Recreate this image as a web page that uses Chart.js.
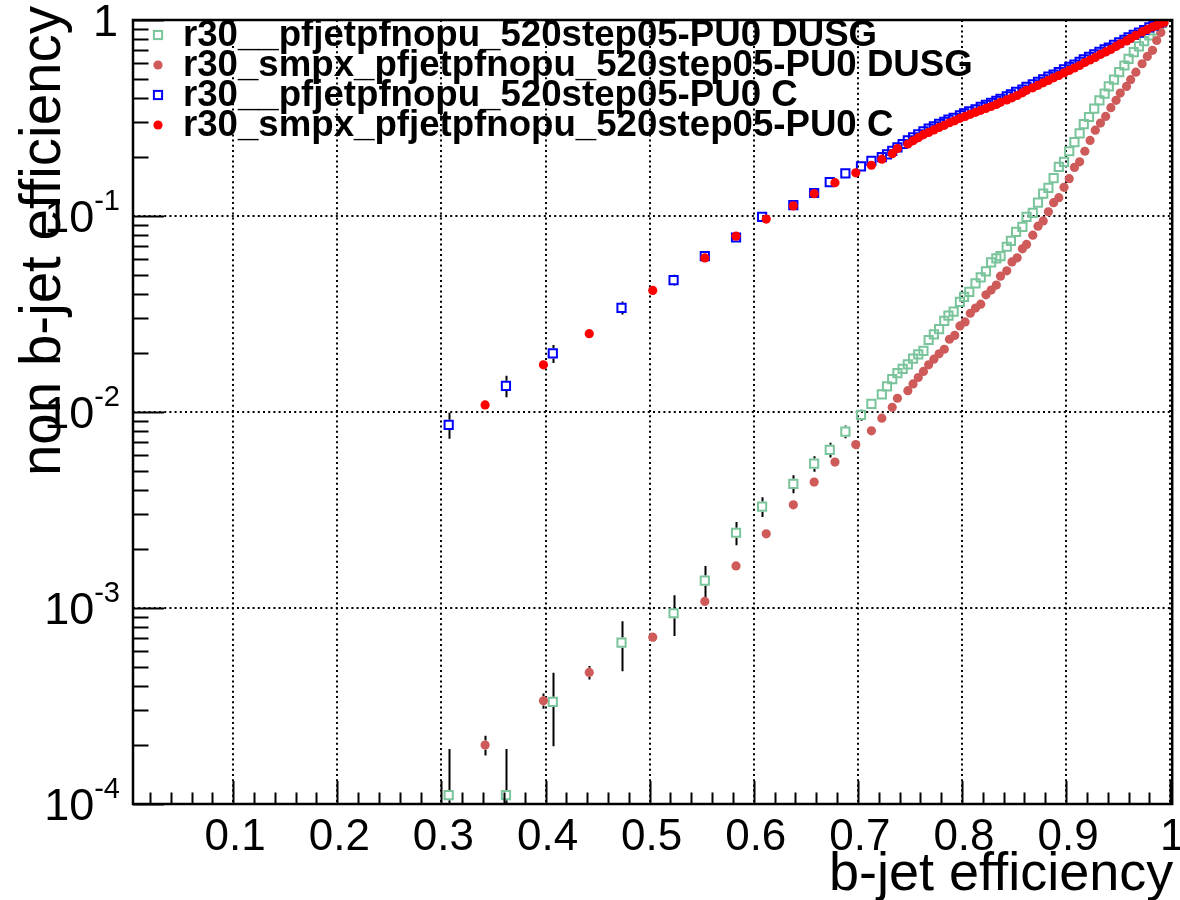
<!DOCTYPE html>
<html>
<head>
<meta charset="utf-8">
<script src="https://cdn.jsdelivr.net/npm/chart.js@4.4.0/dist/chart.umd.min.js"></script>
<style>
  html, body { margin: 0; padding: 0; background: #ffffff; }
  canvas { display: block; }
</style>
</head>
<body>
<canvas id="roc" width="1180" height="900"></canvas>
<script>
// ---- b-tagging performance: mistag rate vs b-jet efficiency ----

// Sample "r30__" : working points (b-jet efficiency)
const effB_r30 = [0.307, 0.362, 0.407, 0.473, 0.523, 0.553, 0.583, 0.608, 0.638, 0.658,
  0.673, 0.688, 0.703, 0.713, 0.723, 0.728, 0.733, 0.738, 0.743, 0.748,
  0.753, 0.758, 0.763, 0.768, 0.773, 0.778, 0.783, 0.787, 0.792, 0.798,
  0.802, 0.807, 0.813, 0.818, 0.823, 0.828, 0.833, 0.837, 0.843, 0.847,
  0.852, 0.858, 0.862, 0.868, 0.873, 0.878, 0.883, 0.888, 0.893, 0.898,
  0.903, 0.908, 0.913, 0.917, 0.922, 0.927, 0.932, 0.937, 0.941, 0.946,
  0.951, 0.956, 0.960, 0.965, 0.970, 0.975, 0.980, 0.984, 0.989, 0.992];

// light-flavour (udsg) mistag rate, r30__
const dusg_r30 = [1.11e-4, 1.11e-4, 3.32e-4, 6.66e-4, 9.4e-4, 1.38e-3, 2.42e-3, 3.29e-3, 4.30e-3, 5.45e-3,
  6.41e-3, 7.94e-3, 9.66e-3, 0.0110, 0.0123, 0.0135, 0.0147, 0.0158, 0.0166, 0.0175,
  0.0187, 0.0197, 0.0205, 0.0233, 0.0249, 0.0265, 0.0292, 0.0310, 0.0325, 0.0365,
  0.0387, 0.0410, 0.0453, 0.0486, 0.0522, 0.0580, 0.0608, 0.0624, 0.0697, 0.0747,
  0.0830, 0.0880, 0.0989, 0.1038, 0.117, 0.130, 0.139, 0.156, 0.178, 0.189,
  0.214, 0.238, 0.264, 0.294, 0.320, 0.353, 0.389, 0.421, 0.458, 0.496,
  0.542, 0.586, 0.634, 0.685, 0.733, 0.780, 0.834, 0.885, 0.937, 0.963];
const dusg_r30_err = [8.0e-5, 8.0e-5, 1.35e-4, 1.9e-4, 2.2e-4, 2.6e-4, 3.3e-4, 3.8e-4, 4.5e-4, 5.0e-4,
  5.5e-4, 6.0e-4, 6.5e-4, 0, 0, 0, 0, 0, 0, 0,
  0, 0, 0, 0, 0, 0, 0, 0, 0, 0, 0, 0, 0, 0, 0, 0, 0, 0, 0, 0,
  0, 0, 0, 0, 0, 0, 0, 0, 0, 0, 0, 0, 0, 0, 0, 0, 0, 0, 0, 0,
  0, 0, 0, 0, 0, 0, 0, 0, 0, 0];

// charm mistag rate, r30__
const c_r30 = [0.0086, 0.0136, 0.0199, 0.0340, 0.0471, 0.0624, 0.0777, 0.0989, 0.1135, 0.131,
  0.149, 0.165, 0.179, 0.191, 0.1995, 0.2065, 0.215, 0.224, 0.233, 0.243,
  0.252, 0.261, 0.270, 0.279, 0.287, 0.295, 0.302, 0.310, 0.317, 0.326,
  0.334, 0.342, 0.350, 0.360, 0.369, 0.378, 0.387, 0.396, 0.408, 0.417,
  0.430, 0.442, 0.456, 0.469, 0.483, 0.498, 0.515, 0.527, 0.543, 0.560,
  0.576, 0.593, 0.611, 0.629, 0.648, 0.667, 0.687, 0.708, 0.724, 0.746,
  0.768, 0.791, 0.815, 0.839, 0.863, 0.889, 0.916, 0.938, 0.966, 0.983];
const c_r30_err = [0.0013, 0.0017, 0.0021, 0.0026, 0.0030, 0.0035, 0.0040, 0.0045, 0, 0,
  0, 0, 0, 0, 0, 0, 0, 0, 0, 0, 0, 0, 0, 0, 0, 0, 0, 0, 0, 0,
  0, 0, 0, 0, 0, 0, 0, 0, 0, 0, 0, 0, 0, 0, 0, 0, 0, 0, 0, 0,
  0, 0, 0, 0, 0, 0, 0, 0, 0, 0, 0, 0, 0, 0, 0, 0, 0, 0, 0, 0];

// Sample "r30_smpx_" : working points (b-jet efficiency)
const effB_smpx = [0.342, 0.398, 0.442, 0.503, 0.553, 0.583, 0.612, 0.638, 0.658, 0.678,
  0.698, 0.713, 0.723, 0.733, 0.738, 0.748, 0.753, 0.758, 0.763, 0.768,
  0.773, 0.778, 0.783, 0.788, 0.793, 0.798, 0.803, 0.808, 0.813, 0.818,
  0.823, 0.828, 0.833, 0.837, 0.843, 0.848, 0.853, 0.858, 0.862, 0.868,
  0.873, 0.878, 0.883, 0.888, 0.893, 0.898, 0.903, 0.908, 0.913, 0.918,
  0.923, 0.928, 0.933, 0.938, 0.943, 0.948, 0.952, 0.958, 0.962, 0.967,
  0.973, 0.978, 0.983, 0.987, 0.991, 0.994];

const dusg_smpx = [2.0e-4, 3.36e-4, 4.69e-4, 7.1e-4, 1.08e-3, 1.64e-3, 2.39e-3, 3.36e-3, 4.39e-3, 5.55e-3,
  6.82e-3, 8.02e-3, 9.30e-3, 0.01057, 0.01175, 0.01285, 0.0139, 0.0150, 0.0161, 0.0174,
  0.0186, 0.0198, 0.0209, 0.0235, 0.0246, 0.0275, 0.0288, 0.0319, 0.0339, 0.0355,
  0.0396, 0.0419, 0.0444, 0.0493, 0.0525, 0.0583, 0.0612, 0.0680, 0.0716, 0.0798,
  0.0887, 0.0944, 0.105, 0.117, 0.124, 0.140, 0.155, 0.177, 0.189, 0.214,
  0.243, 0.274, 0.298, 0.322, 0.357, 0.389, 0.424, 0.458, 0.496, 0.542,
  0.598, 0.652, 0.700, 0.786, 0.863, 0.960];
const dusg_smpx_err = [2.3e-5, 3.0e-5, 3.7e-5, 4.0e-5, 5.0e-5, 6.0e-5, 7.0e-5, 0, 0, 0,
  0, 0, 0, 0, 0, 0, 0, 0, 0, 0, 0, 0, 0, 0, 0, 0, 0, 0, 0, 0,
  0, 0, 0, 0, 0, 0, 0, 0, 0, 0, 0, 0, 0, 0, 0, 0, 0, 0, 0, 0,
  0, 0, 0, 0, 0, 0, 0, 0, 0, 0, 0, 0, 0, 0, 0, 0];

const c_smpx = [0.01087, 0.0174, 0.0251, 0.0417, 0.0611, 0.0789, 0.0964, 0.1125, 0.130, 0.148,
  0.166, 0.1815, 0.195, 0.208, 0.221, 0.233, 0.242, 0.251, 0.260, 0.267,
  0.275, 0.283, 0.290, 0.299, 0.306, 0.315, 0.322, 0.330, 0.338, 0.346,
  0.354, 0.362, 0.371, 0.380, 0.391, 0.401, 0.412, 0.425, 0.438, 0.451,
  0.464, 0.478, 0.492, 0.507, 0.521, 0.537, 0.553, 0.569, 0.586, 0.607,
  0.625, 0.644, 0.667, 0.687, 0.708, 0.733, 0.755, 0.782, 0.805, 0.834,
  0.869, 0.895, 0.921, 0.938, 0.960, 0.977];

const seriesNames = [
  'r30__pfjetpfnopu_520step05-PU0 DUSG',
  'r30_smpx_pfjetpfnopu_520step05-PU0 DUSG',
  'r30__pfjetpfnopu_520step05-PU0 C',
  'r30_smpx_pfjetpfnopu_520step05-PU0 C'
];

const xTickValues = [0.1, 0.2, 0.3, 0.4, 0.5, 0.6, 0.7, 0.8, 0.9, 1.0];
const xTickLabels = ['0.1', '0.2', '0.3', '0.4', '0.5', '0.6', '0.7', '0.8', '0.9', '1'];
const yTickValues = [1e-4, 1e-3, 1e-2, 1e-1, 1];
const yTickLabels = [['10', '-4'], ['10', '-3'], ['10', '-2'], ['10', '-1'], ['1', '']];
const xTitle = 'b-jet efficiency';
const yTitle = 'non b-jet efficiency';

// ---- styling ----
const FONT = '"Liberation Sans", Arial, Helvetica, sans-serif';
const COL_DUSG_A = 'rgb(122,196,156)';
const COL_DUSG_B = 'rgb(206,90,90)';
const COL_C_A = 'rgb(0,0,255)';
const COL_C_B = 'rgb(255,0,0)';

const toPoints = (xs, ys) => xs.map((x, i) => ({ x: x, y: ys[i] }));

const datasets = [
  { label: seriesNames[0], data: toPoints(effB_r30, dusg_r30), errors: dusg_r30_err,
    pointStyle: 'rect', pointRadius: 5.8, pointBorderWidth: 2,
    pointBorderColor: COL_DUSG_A, pointBackgroundColor: 'rgba(0,0,0,0)', borderColor: COL_DUSG_A,
    backgroundColor: 'rgba(0,0,0,0)', markerHalf: 5.1, order: 3 },
  { label: seriesNames[1], data: toPoints(effB_smpx, dusg_smpx), errors: dusg_smpx_err,
    pointStyle: 'circle', pointRadius: 4.6, pointBorderWidth: 0,
    pointBackgroundColor: COL_DUSG_B, pointBorderColor: COL_DUSG_B, backgroundColor: COL_DUSG_B,
    borderColor: COL_DUSG_B, markerHalf: 4.6, order: 2 },
  { label: seriesNames[2], data: toPoints(effB_r30, c_r30), errors: c_r30_err,
    pointStyle: 'rect', pointRadius: 5.8, pointBorderWidth: 2,
    pointBorderColor: COL_C_A, pointBackgroundColor: 'rgba(0,0,0,0)', borderColor: COL_C_A,
    backgroundColor: 'rgba(0,0,0,0)', markerHalf: 5.1, order: 1 },
  { label: seriesNames[3], data: toPoints(effB_smpx, c_smpx),
    pointStyle: 'circle', pointRadius: 4.6, pointBorderWidth: 0,
    pointBackgroundColor: COL_C_B, pointBorderColor: COL_C_B, backgroundColor: COL_C_B,
    borderColor: COL_C_B, markerHalf: 4.6, order: 0 }
];

// vertical error bars, drawn outside the marker like ROOT does
function drawErrorBars(chart) {
  const ctx = chart.ctx, area = chart.chartArea, ys = chart.scales.y;
  ctx.save();
  ctx.beginPath();
  ctx.rect(area.left, area.top, area.right - area.left, area.bottom - area.top);
  ctx.clip();
  ctx.strokeStyle = '#000';
  ctx.lineWidth = 2;
  chart.data.datasets.forEach((ds, di) => {
    if (!ds.errors) return;
    const meta = chart.getDatasetMeta(di);
    meta.data.forEach((el, i) => {
      const e = ds.errors[i];
      if (!e) return;
      const v = ds.data[i].y;
      const pUp = ys.getPixelForValue(v + e);
      const pLo = v - e > 0 ? ys.getPixelForValue(v - e) : area.bottom + 20;
      const g = ds.markerHalf;
      const x = Math.round(el.x) + 0.5;
      ctx.beginPath();
      if (pUp < el.y - g) { ctx.moveTo(x, pUp); ctx.lineTo(x, el.y - g); }
      if (pLo > el.y + g) { ctx.moveTo(x, el.y + g); ctx.lineTo(x, pLo); }
      ctx.stroke();
    });
  });
  ctx.restore();
}

function drawMarker(ctx, ds, x, y) {
  ctx.save();
  if (ds.pointStyle === 'rect') {
    const s = Math.SQRT1_2 * ds.pointRadius;
    ctx.strokeStyle = ds.pointBorderColor;
    ctx.lineWidth = ds.pointBorderWidth;
    ctx.strokeRect(x - s, y - s, 2 * s, 2 * s);
  } else {
    ctx.fillStyle = ds.pointBackgroundColor;
    ctx.beginPath();
    ctx.arc(x, y, ds.pointRadius, 0, Math.PI * 2);
    ctx.fill();
  }
  ctx.restore();
}

const frameAndLabels = {
  id: 'frameAndLabels',
  beforeDatasetsDraw(chart) { drawErrorBars(chart); },
  afterDraw(chart) {
    const ctx = chart.ctx, a = chart.chartArea;
    const xs = chart.scales.x, ys = chart.scales.y;
    ctx.save();

    // tick marks (inside the frame)
    ctx.strokeStyle = '#000';
    ctx.lineWidth = 2;
    ctx.beginPath();
    for (let k = 1; k <= 50; k++) {
      const v = k * 0.02;
      if (v < xs.min || v > xs.max) continue;
      const px = Math.round(xs.getPixelForValue(v)) + 0.5;
      const len = (k % 5 === 0) ? 23 : 11.5;
      ctx.moveTo(px, a.bottom); ctx.lineTo(px, a.bottom - len);
    }
    for (let d = -4; d <= 0; d++) {
      for (let m = 1; m <= 9; m++) {
        const v = m * Math.pow(10, d);
        if (v < ys.min * 0.999 || v > ys.max * 1.001) continue;
        const py = Math.round(ys.getPixelForValue(v)) + 0.5;
        const len = (m === 1) ? 31 : 15.5;
        ctx.moveTo(a.left, py); ctx.lineTo(a.left + len, py);
      }
    }
    ctx.stroke();

    // frame
    ctx.lineWidth = 2.5;
    ctx.strokeRect(a.left, a.top, a.right - a.left, a.bottom - a.top);

    // x tick labels
    ctx.fillStyle = '#000';
    ctx.font = '44px ' + FONT;
    ctx.textAlign = 'center';
    ctx.textBaseline = 'alphabetic';
    xTickValues.forEach((v, i) => {
      const px = xs.getPixelForValue(v);
      ctx.fillText(xTickLabels[i], px + 2, 850);
    });

    // y tick labels (10^n with superscript exponent)
    yTickValues.forEach((v, i) => {
      const py = ys.getPixelForValue(v);
      const [base, sup] = yTickLabels[i];
      const right = 120;
      ctx.textAlign = 'left';
      ctx.font = '29px ' + FONT;
      const wSup = sup ? ctx.measureText(sup).width : 0;
      ctx.font = '45px ' + FONT;
      const wBase = ctx.measureText(base).width;
      const xBase = right - wSup - wBase - (sup ? 0 : 2);
      ctx.fillText(base, xBase, py + 16);
      if (sup) {
        ctx.font = '29px ' + FONT;
        ctx.fillText(sup, right - wSup, py - 6);
      }
    });

    // axis titles
    ctx.font = '54px ' + FONT;
    ctx.textAlign = 'right';
    ctx.fillText(xTitle, a.right + 1, 890);
    ctx.save();
    ctx.font = '56.5px ' + FONT;
    ctx.translate(60, 6);
    ctx.rotate(-Math.PI / 2);
    ctx.textAlign = 'right';
    ctx.fillText(yTitle, 0, 0);
    ctx.restore();

    // legend
    ctx.font = 'bold 30px ' + FONT;
    const wRef = ctx.measureText(seriesNames[1]).width;
    const fs = 30 * (973 - 183) / wRef;
    ctx.font = 'bold ' + fs.toFixed(2) + 'px ' + FONT;
    ctx.textAlign = 'left';
    const rowY = [35, 65, 95, 125];
    chart.data.datasets.forEach((ds, i) => {
      drawMarker(ctx, ds, 158, rowY[i]);
      ctx.fillStyle = '#000';
      ctx.fillText(ds.label, 183, rowY[i] + 11);
    });

    ctx.restore();
  }
};

new Chart(document.getElementById('roc'), {
  type: 'scatter',
  data: { datasets: datasets },
  options: {
    responsive: false,
    animation: false,
    devicePixelRatio: 1,
    layout: { padding: { left: 133, right: 5, top: 20, bottom: 96 } },
    plugins: { legend: { display: false }, tooltip: { enabled: false } },
    scales: {
      x: {
        type: 'linear', min: 0.0038, max: 1.0019,
        afterBuildTicks: s => { s.ticks = xTickValues.map(v => ({ value: v })); },
        afterFit: s => { s.height = 0; },
        ticks: { display: false },
        grid: { color: '#000', lineWidth: 2, drawTicks: false },
        border: { display: false, dash: [2, 3.2] }
      },
      y: {
        type: 'logarithmic', min: 1e-4, max: 1,
        afterBuildTicks: s => { s.ticks = yTickValues.map(v => ({ value: v })); },
        afterFit: s => { s.width = 0; },
        ticks: { display: false },
        grid: { color: '#000', lineWidth: 2, drawTicks: false },
        border: { display: false, dash: [2, 3.2] }
      }
    }
  },
  plugins: [frameAndLabels]
});
</script>
</body>
</html>
